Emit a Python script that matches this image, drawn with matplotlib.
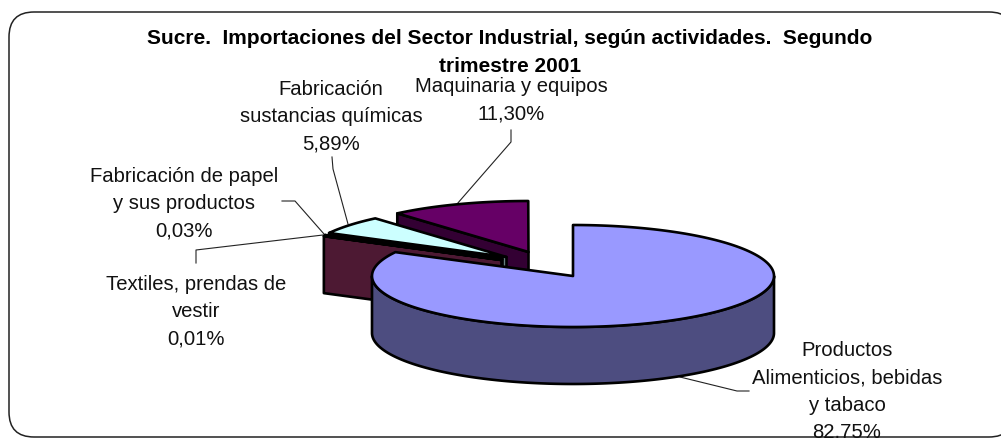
import numpy as np
import matplotlib
matplotlib.use("Agg")
import matplotlib.pyplot as plt
from matplotlib.patches import FancyBboxPatch, Rectangle

# ---- data ----
categories = ["Productos\nAlimenticios, bebidas\ny tabaco",
              "Textiles, prendas de\nvestir",
              "Fabricación de papel\ny sus productos",
              "Fabricación\nsustancias químicas",
              "Maquinaria y equipos"]
shares = [82.75, 0.01, 0.03, 5.89, 11.30]
share_labels = ["82,75%", "0,01%", "0,03%", "5,89%", "11,30%"]
title = "Sucre.  Importaciones del Sector Industrial, según actividades.  Segundo\ntrimestre 2001"

# ---- style / layout ----
top_colors = ["#9999ff", "#993366", "#ffffcc", "#ccffff", "#660066"]
side_colors = ["#4d4d80", "#4d1933", "#808066", "#668080", "#330033"]
apex_xy = [(573, 277), (501.5, 261), (502.5, 260), (506.5, 258), (528.5, 253)]
rx, ry, depth = 201, 51, 57
LW = 1.9

plt.rcParams["font.family"] = ["Liberation Sans", "DejaVu Sans"]
fig = plt.figure(figsize=(10.01, 4.39), dpi=100)
ax = fig.add_axes([0, 0, 1, 1])
ax.set_xlim(0, 1001)
ax.set_ylim(439, 0)
ax.axis("off")

frame = FancyBboxPatch((34, 38), 955, 375, boxstyle="round,pad=25,rounding_size=25",
                       fc="white", ec="#222222", lw=1.1, zorder=0)
ax.add_patch(frame)

# angles clockwise from 12 o'clock, taken from the shares
edges = 90 - np.cumsum([0] + shares) * 3.6


def rim(i, a):
    a = np.radians(a)
    return apex_xy[i][0] + rx * np.cos(a), apex_xy[i][1] - ry * np.sin(a)


def poly(x, y, color, z):
    ax.fill(x, y, fc=color, ec="black", lw=LW, joinstyle="round", zorder=z)


def radial_face(i, a, z):
    x0, y0 = apex_xy[i]
    x1, y1 = rim(i, a)
    poly([x0, x1, x1, x0], [y0, y1, y1 + depth, y0 + depth], side_colors[i], z)


def top(i, z):
    t = np.linspace(edges[i], edges[i + 1], 300)
    x, y = rim(i, t)
    poly(np.r_[apex_xy[i][0], x], np.r_[apex_xy[i][1], y], top_colors[i], z)


def outer_side(i, z):
    t = np.linspace(360, 180, 300) - 360
    x, y = rim(i, t)
    poly(np.r_[x, x[::-1]], np.r_[y, y[::-1] + depth], side_colors[i], z)


# back to front: machinery, chemicals, paper, textiles, food
for z, i in enumerate([4, 3, 2, 1], start=1):
    radial_face(i, edges[i], z * 2)
    top(i, z * 2 + 1)
outer_side(0, 20)
top(0, 21)

# leader lines
leaders = [([749, 737, 680], [392, 392, 378]),
           ([196, 196, 323], [264, 251, 236]),
           ([282, 295, 324], [202, 202, 235]),
           ([332, 333, 348], [158, 170, 225]),
           ([511, 511, 457], [131, 143, 205])]
for lx, ly in leaders:
    ax.plot(lx, ly, color="#222222", lw=0.8, zorder=1)

# labels
label_pos = [(847, 391.5), (196, 312), (184, 204), (331, 117), (511, 100)]
clip = Rectangle((0, 0), 1001, 437, transform=ax.transData)
for c, s, (x, y) in zip(categories, share_labels, label_pos):
    t = ax.text(x, y, c + "\n" + s, ha="center", va="center", fontsize=14.6,
                linespacing=1.55, color="#111111", zorder=30)
    t.set_clip_path(clip)

ax.text(510, 52.5, title, ha="center", va="center", fontsize=15.05, fontweight="bold",
        linespacing=1.54, color="black", zorder=31)

fig.savefig("out.png", dpi=100)
